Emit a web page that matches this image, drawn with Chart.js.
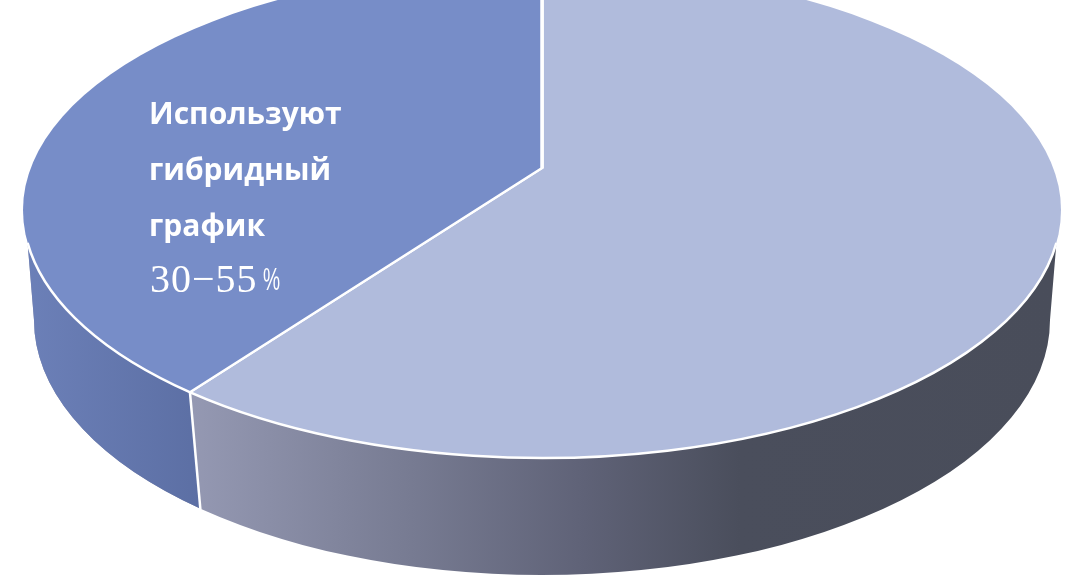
<!DOCTYPE html>
<html>
<head>
<meta charset="utf-8">
<style>
	html, body { margin: 0; padding: 0; background: #fff; }
	canvas { display: block; }
</style>
<script src="https://cdn.jsdelivr.net/npm/chart.js@4"></script>
</head>
<body>
<canvas id="pie" width="1076" height="576"></canvas>
<script>
// chart data
const categories = ['', 'Используют гибридный график'];
const shares = [60, 40];
const sliceColors = ['#b0bbdc', '#778dc8'];

// text on the dark slice
const labelLines = ['Используют', 'гибридный', 'график'];
const rangeNumbers = '30−55';
const rangeUnit = '%';

// look of the tilted disc
const apex = { x: 542, y: 168 };
const topRim = { x: 542, y: 210, rx: 519, ry: 248, ryBack: 244 };
const baseRim = { x: 542, y: 320, rx: 508, ry: 255 };
const tilt = 0.4627;
const rimStart = 0.133;

// where the ray from the apex hits the top rim, returns the rim parameter
const rimAngle = (angle) => {
	const dx = Math.cos(angle) / topRim.rx;
	const dy = tilt * Math.sin(angle) / topRim.ry;
	const ox = (apex.x - topRim.x) / topRim.rx;
	const oy = (apex.y - topRim.y) / topRim.ry;
	const a = dx * dx + dy * dy;
	const b = 2 * (ox * dx + oy * dy);
	const c = ox * ox + oy * oy - 1;
	const s = (-b + Math.sqrt(b * b - 4 * a * c)) / (2 * a);
	return Math.atan2((oy + s * dy), (ox + s * dx));
};

const rimPoint = (rim, t) => ({
	x: rim.x + rim.rx * Math.cos(t),
	y: rim.y + rim.ry * Math.sin(t)
});

const wallPath = (ctx) => {
	ctx.beginPath();
	ctx.ellipse(baseRim.x, baseRim.y, baseRim.rx, baseRim.ry, 0, Math.PI, 0, true);
	ctx.ellipse(topRim.x, topRim.y, topRim.rx, topRim.ry, 0, rimStart, Math.PI - rimStart, false);
	ctx.closePath();
};

const horizontalGradient = (ctx, x0, x1, stops) => {
	const gradient = ctx.createLinearGradient(x0, 0, x1, 0);
	stops.forEach(([pos, color]) => gradient.addColorStop(pos, color));
	return gradient;
};

// side wall under the pie, split where the two slices meet
const drawWall = (chart) => {
	const ctx = chart.ctx;
	const arcs = chart.getDatasetMeta(0).data;
	const t = rimAngle(arcs[1].startAngle);
	const top = rimPoint(topRim, t);
	const bottom = rimPoint(baseRim, t);
	bottom.x += 3;
	bottom.y += 2;

	ctx.save();
	wallPath(ctx);
	ctx.fillStyle = horizontalGradient(ctx, 195, 1060, [
		[0, '#9498b2'],
		[0.25, '#777b92'],
		[0.45, '#5f6277'],
		[0.63, '#4a4e5c'],
		[1, '#494d5a']
	]);
	ctx.fill();

	ctx.clip();
	ctx.beginPath();
	ctx.moveTo(0, 0);
	ctx.lineTo(top.x, 0);
	ctx.lineTo(top.x, top.y);
	ctx.lineTo(bottom.x, bottom.y);
	ctx.lineTo(bottom.x, 576);
	ctx.lineTo(0, 576);
	ctx.closePath();
	ctx.fillStyle = horizontalGradient(ctx, 25, 200, [
		[0, '#6c80b8'],
		[1, '#5c6fa4']
	]);
	ctx.fill();
	ctx.restore();

	ctx.save();
	ctx.strokeStyle = '#fff';
	ctx.lineWidth = 2.5;
	ctx.beginPath();
	ctx.moveTo(top.x, top.y);
	ctx.lineTo(bottom.x, bottom.y);
	ctx.stroke();
	ctx.restore();
};

const drawRim = (chart) => {
	const ctx = chart.ctx;
	ctx.save();
	ctx.strokeStyle = '#fff';
	ctx.lineWidth = 2.5;
	ctx.beginPath();
	ctx.ellipse(topRim.x, topRim.y, topRim.rx, topRim.ry, 0, rimStart, Math.PI - rimStart, false);
	ctx.stroke();
	ctx.restore();
};

const drawLabel = (chart) => {
	const ctx = chart.ctx;
	ctx.save();
	ctx.fillStyle = '#fff';
	ctx.textBaseline = 'alphabetic';
	ctx.textAlign = 'left';
	ctx.font = '700 30px "Open Sans"';
	labelLines.forEach((line, i) => {
		ctx.fillText(line, 149, 124 + i * 56);
	});
	ctx.font = '40px "Liberation Serif"';
	ctx.letterSpacing = '1px';
	ctx.fillText(rangeNumbers, 150, 292);
	ctx.letterSpacing = '0px';
	// the percent sign is narrow and tall in the picture
	ctx.font = '31px "Liberation Sans"';
	ctx.translate(263, 290);
	ctx.scale(0.62, 1);
	ctx.fillText(rangeUnit, 0, 0);
	ctx.restore();
};

// squash the library's pie around the apex and trim it to the top rim
const tiltPlugin = {
	id: 'tiltedDisc',
	beforeDatasetsDraw(chart) {
		const ctx = chart.ctx;
		const arc = chart.getDatasetMeta(0).data[0];
		drawWall(chart);
		ctx.save();
		ctx.beginPath();
		ctx.ellipse(topRim.x, topRim.y, topRim.rx, topRim.ry, 0, 0, Math.PI);
		ctx.ellipse(topRim.x, topRim.y, topRim.rx, topRim.ryBack, 0, Math.PI, Math.PI * 2);
		ctx.clip();
		ctx.translate(apex.x, apex.y);
		ctx.scale(1, tilt);
		ctx.translate(-arc.x, -arc.y);
	},
	afterDatasetsDraw(chart) {
		chart.ctx.restore();
		drawRim(chart);
		drawLabel(chart);
	}
};

const chartSettings = {
	type: 'pie',
	data: {
		labels: categories,
		datasets: [{
			data: shares,
			backgroundColor: sliceColors,
			borderColor: '#fff',
			borderWidth: 3.5,
			hoverOffset: 0
		}]
	},
	options: {
		responsive: false,
		animation: false,
		radius: 1000,
		layout: { padding: 0 },
		plugins: {
			legend: { display: false },
			tooltip: { enabled: false }
		}
	},
	plugins: [tiltPlugin]
};

const myPieChart = new Chart(document.getElementById('pie').getContext('2d'), chartSettings);
</script>
</body>
</html>
